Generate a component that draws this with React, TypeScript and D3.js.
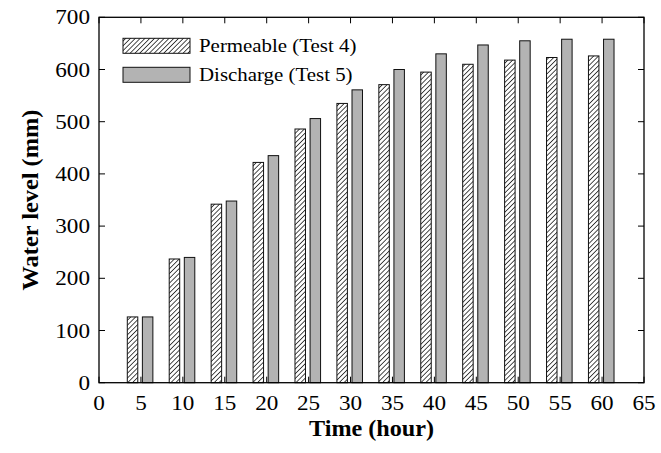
import React from "react";
import * as d3 from "d3";

const times = [5, 10, 15, 20, 25, 30, 35, 40, 45, 50, 55, 60];
const permeable = [126, 237, 342, 422, 486, 535, 571, 595, 610, 618, 623, 626];
const discharge = [126, 240, 348, 435, 506, 561, 600, 630, 647, 655, 658, 658];
const xTicks = [0, 5, 10, 15, 20, 25, 30, 35, 40, 45, 50, 55, 60, 65];
const yTicks = [0, 100, 200, 300, 400, 500, 600, 700];
const seriesNames = ["Permeable (Test 4)", "Discharge (Test 5)"];

const W = 661;
const H = 453;
const L = 99, R = 644, T = 17.3, B = 382.7;
const FONT = "'Liberation Serif', 'Times New Roman', serif";

function T2(props: { x: number; y: number; anchor?: string; size: number; bold?: boolean; rotate?: number; sx?: number; children: React.ReactNode }) {
  const { x, y, anchor = "start", size, bold, rotate = 0, sx = 1.13, children } = props;
  return (
    <text
      transform={`translate(${x},${y}) rotate(${rotate}) scale(${sx},1)`}
      textAnchor={anchor}
      fontFamily={FONT}
      fontSize={size}
      fontWeight={bold ? "bold" : "normal"}
      fill="#000"
    >
      {children}
    </text>
  );
}

export default function App() {
  const x = d3.scaleLinear().domain([0, 65]).range([L, R]);
  const y = d3.scaleLinear().domain([0, 700]).range([B, T]);
  const bw = x(1.25) - x(0);
  const tl = 6;
  const gray = "#b3b3b3";

  return (
    <svg width={W} height={H} style={{ position: "absolute", left: 0, top: 0, background: "#fff" }}>
      <defs>
        <pattern id="hatch" patternUnits="userSpaceOnUse" width={3.4} height={3.4} patternTransform="rotate(45)">
          <rect width={3.4} height={3.4} fill="#fff" />
          <line x1={0} y1={0} x2={0} y2={3.4} stroke="#000" strokeWidth={1.4} />
        </pattern>
      </defs>
      {/* bars */}
      {times.map((t, i) => (
        <g key={t}>
          <rect x={x(t - 1.0) - bw / 2} y={y(permeable[i])} width={bw} height={B - y(permeable[i])}
            fill="url(#hatch)" stroke="#111" strokeWidth={1} />
          <rect x={x(t + 0.8) - bw / 2} y={y(discharge[i])} width={bw} height={B - y(discharge[i])}
            fill={gray} stroke="#111" strokeWidth={1} />
        </g>
      ))}
      {/* frame */}
      <rect x={L} y={T} width={R - L} height={B - T} fill="none" stroke="#000" strokeWidth={1.3} />
      {/* x ticks */}
      {xTicks.map((v) => (
        <g key={"x" + v}>
          <line x1={x(v)} x2={x(v)} y1={B} y2={B - tl} stroke="#000" strokeWidth={1} />
          <line x1={x(v)} x2={x(v)} y1={T} y2={T + tl} stroke="#000" strokeWidth={1} />
          <T2 x={x(v)} y={410} anchor="middle" size={20.5}>{v}</T2>
        </g>
      ))}
      {/* y ticks */}
      {yTicks.map((v) => (
        <g key={"y" + v}>
          <line x1={L} x2={L + tl} y1={y(v)} y2={y(v)} stroke="#000" strokeWidth={1} />
          <line x1={R} x2={R - tl} y1={y(v)} y2={y(v)} stroke="#000" strokeWidth={1} />
          <T2 x={90} y={y(v) + 7} anchor="end" size={20.5}>{v}</T2>
        </g>
      ))}
      {/* axis titles */}
      <T2 x={(L + R) / 2} y={436} anchor="middle" size={23} sx={1.05} bold>Time (hour)</T2>
      <T2 x={38} y={(T + B) / 2} anchor="middle" size={23} sx={1.06} bold rotate={-90}>Water level (mm)</T2>
      {/* legend */}
      <rect x={123} y={38.3} width={67} height={15} fill="url(#hatch)" stroke="#111" strokeWidth={1} />
      <T2 x={199} y={52.3} size={18.5}>{seriesNames[0]}</T2>
      <rect x={123} y={67.3} width={67} height={15} fill={gray} stroke="#111" strokeWidth={1} />
      <T2 x={199} y={81} size={18.5}>{seriesNames[1]}</T2>
    </svg>
  );
}
